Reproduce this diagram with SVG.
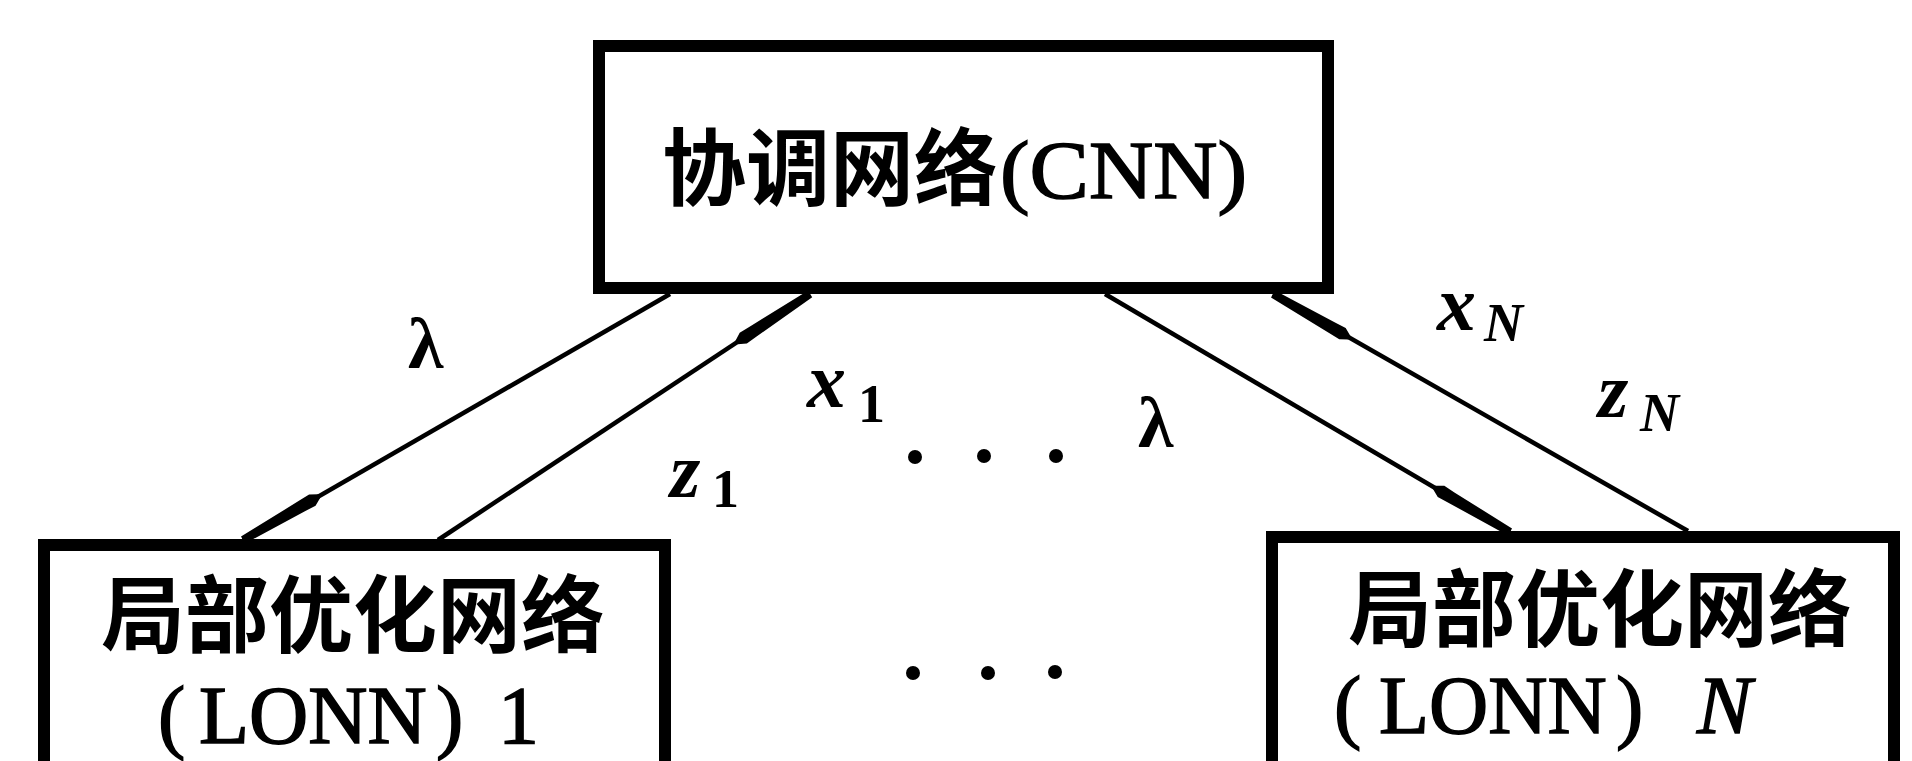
<svg xmlns="http://www.w3.org/2000/svg" width="1912" height="761" viewBox="0 0 1912 761">
<style>
.box{fill:#fff;stroke:#000;stroke-width:12}
.cjk{font-family:"Noto Sans CJK SC","Noto Sans CJK JP",sans-serif;font-size:84px;font-weight:bold;fill:#000}
.lat{font-family:"Liberation Serif","Times New Roman",serif;font-size:82px;fill:#000;stroke:#000;stroke-width:1.5}
.lbl{font-family:"Liberation Serif","Times New Roman",serif;font-size:78px;font-style:italic;font-weight:bold;fill:#000}
.sub{font-family:"Liberation Serif","Times New Roman",serif;font-size:54px;font-weight:bold;fill:#000}
.lam{font-family:"Liberation Serif","Times New Roman",serif;font-size:72px;font-weight:bold;fill:#000}
.conn{fill:none;stroke:#000;stroke-width:4.5}
</style>
<defs>
<marker id="blob" markerUnits="userSpaceOnUse" viewBox="-92 -8 94 16" refX="0" refY="0" markerWidth="94" markerHeight="16" orient="auto">
<path d="M-88,-2 L-80,-6.5 L-68,-6 L0,-4 L0,4 L-68,6 L-80,6.5 L-88,2 Z" fill="#000"/>
</marker>
</defs>
<rect width="1912" height="761" fill="#fff"/>
<g id="connectors">
<path class="conn" d="M670,294 L243,540" marker-end="url(#blob)"/>
<path class="conn" d="M438,540 L810,294" marker-end="url(#blob)"/>
<path class="conn" d="M1105,294 L1510,532" marker-end="url(#blob)"/>
<path class="conn" d="M1688,531 L1273,294" marker-end="url(#blob)"/>
</g>
<g id="cnn">
<rect class="box" x="599" y="46" width="729" height="242"/>
<text class="cjk" x="662" y="199" font-size="83">协调网络</text>
<text class="lat" x="1000" y="198" font-size="88" textLength="247" lengthAdjust="spacingAndGlyphs">(CNN)</text>
</g>
<g id="lonn1">
<rect class="box" x="44" y="545" width="621" height="240"/>
<text class="cjk" x="101" y="646">局部优化网络</text>
<text class="lat" y="743"><tspan x="158">(</tspan><tspan x="199">LONN</tspan><tspan x="436">)</tspan><tspan x="498">1</tspan></text>
</g>
<g id="lonnN">
<rect class="box" x="1272" y="537" width="622" height="240"/>
<text class="cjk" x="1348" y="640">局部优化网络</text>
<text class="lat" y="733"><tspan x="1334">(</tspan><tspan x="1379">LONN</tspan><tspan x="1616">)</tspan><tspan x="1697" font-style="italic">N</tspan></text>
</g>
<g id="labels">
<text class="lam" x="408" y="368">λ</text>
<text class="lam" x="1138" y="447">λ</text>
<text class="lbl" x="807" y="407">x</text>
<text class="sub" x="858" y="422">1</text>
<text class="lbl" x="670" y="497">z</text>
<text class="sub" x="712" y="507">1</text>
<text class="lbl" x="1437" y="330">x</text>
<text class="sub" x="1484" y="341" font-style="italic">N</text>
<text class="lbl" x="1598" y="417">z</text>
<text class="sub" x="1640" y="431" font-style="italic">N</text>
</g>
<g id="ellipsis">
<circle cx="915" cy="457" r="7"/>
<circle cx="984" cy="456" r="7"/>
<circle cx="1056" cy="456" r="7"/>
<circle cx="913" cy="673" r="7"/>
<circle cx="988" cy="673" r="7"/>
<circle cx="1055" cy="672" r="7"/>
</g>
</svg>
